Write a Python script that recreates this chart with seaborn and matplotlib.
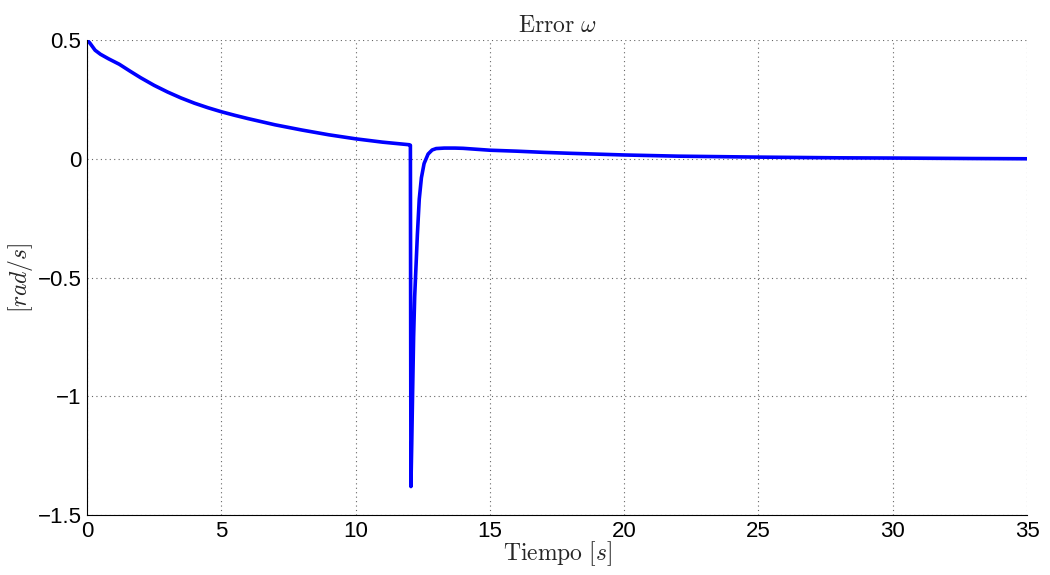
import pandas as pd
import numpy as np
import matplotlib
matplotlib.use('Agg')
import matplotlib.pyplot as plt
import seaborn as sns

# values
tiempo = [0.0, 0.1, 0.3, 0.5, 0.8, 1.2, 1.6, 2.0, 2.5, 3.0, 3.5, 4.0, 4.5,
          5.0, 5.5, 6.0, 7.0, 8.0, 9.0, 10.0, 11.0, 12.0, 12.04, 12.06, 12.09,
          12.12, 12.16, 12.20, 12.25, 12.30, 12.37, 12.45, 12.55, 12.70, 12.85,
          13.0, 13.3, 13.7, 14.0, 14.5, 15.0, 16.0, 17.0, 18.0, 20.0, 22.0,
          25.0, 28.0, 30.0, 33.0, 35.0]
error_w = [0.500, 0.488, 0.457, 0.440, 0.421, 0.398, 0.369, 0.341, 0.309,
           0.281, 0.256, 0.234, 0.215, 0.198, 0.183, 0.169, 0.143, 0.121,
           0.101, 0.084, 0.070, 0.059, 0.057, -1.38, -1.20, -1.00, -0.75,
           -0.58, -0.45, -0.32, -0.17, -0.08, -0.02, 0.020, 0.037, 0.043,
           0.045, 0.045, 0.044, 0.040, 0.036, 0.032, 0.027, 0.023, 0.016,
           0.011, 0.007, 0.004, 0.003, 0.001, 0.000]

x_ticks = [0, 5, 10, 15, 20, 25, 30, 35]
y_ticks = [-1.5, -1, -0.5, 0, 0.5]
y_tick_labels = ['\u22121.5', '\u22121', '\u22120.5', '0', '0.5']

df = pd.DataFrame({'t': tiempo, 'e': error_w})

sns.set_style('white')
plt.rcParams['font.family'] = ['Liberation Sans', 'DejaVu Sans']
plt.rcParams['mathtext.fontset'] = 'cm'

fig = plt.figure(figsize=(10.5, 5.75), dpi=100)
ax = fig.add_axes([0.0829, 0.1043, 0.8952, 0.8261])

sns.lineplot(data=df, x='t', y='e', ax=ax, color='#0000ff', linewidth=2.6,
             solid_joinstyle='round')

ax.set_xlim(0, 35)
ax.set_ylim(-1.5, 0.5)
ax.set_xticks(x_ticks)
ax.set_yticks(y_ticks)
ax.set_yticklabels(y_tick_labels)
ax.tick_params(direction='in', length=5, width=0.8, labelsize=16, colors='black', pad=4)
ax.grid(True, linestyle=(0, (1, 3)), color='#666666', linewidth=0.8)

for s in ['top', 'right']:
    ax.spines[s].set_visible(False)
for s in ['left', 'bottom']:
    ax.spines[s].set_color('black')
    ax.spines[s].set_linewidth(0.8)

ax.set_title(r'$\mathrm{Error}\ \omega$', fontsize=17, pad=6)
ax.set_xlabel(r'$\mathrm{Tiempo}\ [s]$', fontsize=17, labelpad=-2)
ax.set_ylabel(r'$[rad/s]$', fontsize=17, labelpad=2)

fig.savefig('out.png', dpi=100)
